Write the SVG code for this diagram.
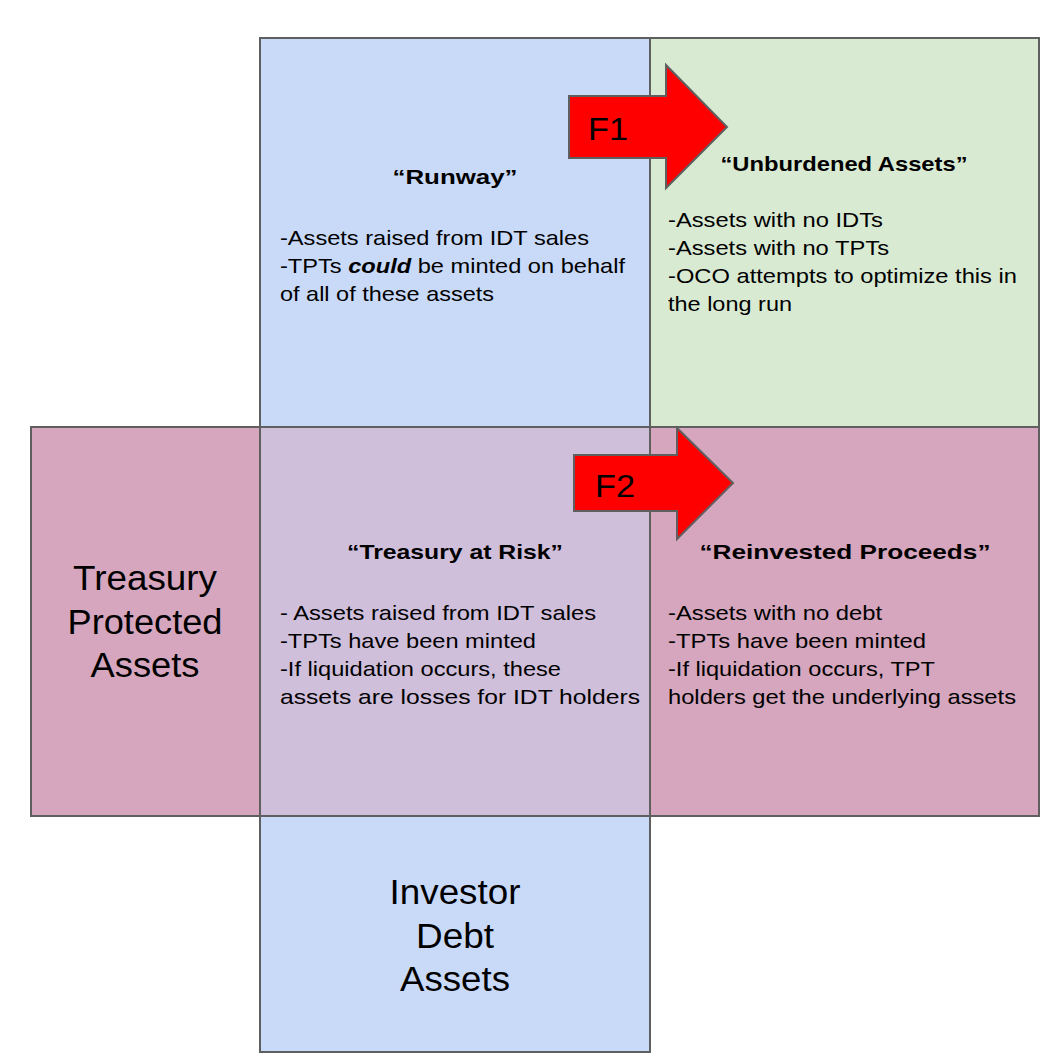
<svg xmlns="http://www.w3.org/2000/svg" width="1064" height="1062" viewBox="0 0 1064 1062">
<style>
.box{stroke:#5f5f5f;stroke-width:2}
.blue{fill:#c9daf8}.green{fill:#d9ead3}.pink{fill:#d5a6bd}.purple{fill:#d0bfdb}
text{font-family:"Liberation Sans",Arial,sans-serif;fill:#000}
.t{font-size:21px;font-weight:bold;text-anchor:middle}
.b{font-size:21px}
.big{font-size:35px;text-anchor:middle}
.arrow{fill:#ff0000;stroke:#5f5f5f;stroke-width:2}
.lbl{font-size:31px}
</style>
<rect width="1064" height="1062" fill="#fff"/>
<g id="runway"><rect class="box blue" x="260" y="38" width="390" height="389"/>
<text class="t" x="455" y="184" textLength="125" lengthAdjust="spacingAndGlyphs">“Runway”</text>
<text class="b" x="280" y="245" textLength="309" lengthAdjust="spacingAndGlyphs">-Assets raised from IDT sales</text>
<text class="b" x="280" y="273" textLength="345" lengthAdjust="spacingAndGlyphs">-TPTs <tspan font-weight="bold" font-style="italic">could</tspan> be minted on behalf</text>
<text class="b" x="280" y="301" textLength="214" lengthAdjust="spacingAndGlyphs">of all of these assets</text></g>
<g id="unburdened"><rect class="box green" x="650" y="38" width="389" height="389"/>
<text class="t" x="844" y="171" textLength="247" lengthAdjust="spacingAndGlyphs">“Unburdened Assets”</text>
<text class="b" x="668" y="227" textLength="215" lengthAdjust="spacingAndGlyphs">-Assets with no IDTs</text>
<text class="b" x="668" y="255" textLength="221" lengthAdjust="spacingAndGlyphs">-Assets with no TPTs</text>
<text class="b" x="668" y="283" textLength="349" lengthAdjust="spacingAndGlyphs">-OCO attempts to optimize this in</text>
<text class="b" x="668" y="311" textLength="124" lengthAdjust="spacingAndGlyphs">the long run</text></g>
<g id="treasury-protected"><rect class="box pink" x="31" y="427" width="229" height="389"/>
<text class="big" x="145" y="590" textLength="144" lengthAdjust="spacingAndGlyphs">Treasury</text>
<text class="big" x="145" y="634" textLength="155" lengthAdjust="spacingAndGlyphs">Protected</text>
<text class="big" x="145" y="677" textLength="109" lengthAdjust="spacingAndGlyphs">Assets</text></g>
<g id="treasury-risk"><rect class="box purple" x="260" y="427" width="390" height="389"/>
<text class="t" x="455" y="559" textLength="216" lengthAdjust="spacingAndGlyphs">“Treasury at Risk”</text>
<text class="b" x="280" y="620" textLength="316" lengthAdjust="spacingAndGlyphs">- Assets raised from IDT sales</text>
<text class="b" x="280" y="648" textLength="256" lengthAdjust="spacingAndGlyphs">-TPTs have been minted</text>
<text class="b" x="280" y="676" textLength="281" lengthAdjust="spacingAndGlyphs">-If liquidation occurs, these</text>
<text class="b" x="280" y="704" textLength="360" lengthAdjust="spacingAndGlyphs">assets are losses for IDT holders</text></g>
<g id="reinvested"><rect class="box pink" x="650" y="427" width="389" height="389"/>
<text class="t" x="845" y="559" textLength="291" lengthAdjust="spacingAndGlyphs">“Reinvested Proceeds”</text>
<text class="b" x="668" y="620" textLength="214" lengthAdjust="spacingAndGlyphs">-Assets with no debt</text>
<text class="b" x="668" y="648" textLength="258" lengthAdjust="spacingAndGlyphs">-TPTs have been minted</text>
<text class="b" x="668" y="676" textLength="267" lengthAdjust="spacingAndGlyphs">-If liquidation occurs, TPT</text>
<text class="b" x="668" y="704" textLength="348" lengthAdjust="spacingAndGlyphs">holders get the underlying assets</text></g>
<g id="investor-debt"><rect class="box blue" x="260" y="816" width="390" height="236"/>
<text class="big" x="455" y="904" textLength="131" lengthAdjust="spacingAndGlyphs">Investor</text>
<text class="big" x="455" y="948" textLength="78" lengthAdjust="spacingAndGlyphs">Debt</text>
<text class="big" x="455" y="991" textLength="110" lengthAdjust="spacingAndGlyphs">Assets</text></g>
<g id="connectors">
<g id="f1"><polygon class="arrow" points="569,96 666,96 666,65 727,127 666,188 666,158 569,158"/>
<text class="lbl" x="588" y="140" textLength="40" lengthAdjust="spacingAndGlyphs">F1</text></g>
<g id="f2"><polygon class="arrow" points="574,455 677,455 677,428 733,483 677,539 677,511 574,511"/>
<text class="lbl" x="595" y="497" textLength="40" lengthAdjust="spacingAndGlyphs">F2</text></g>
</g>
</svg>
